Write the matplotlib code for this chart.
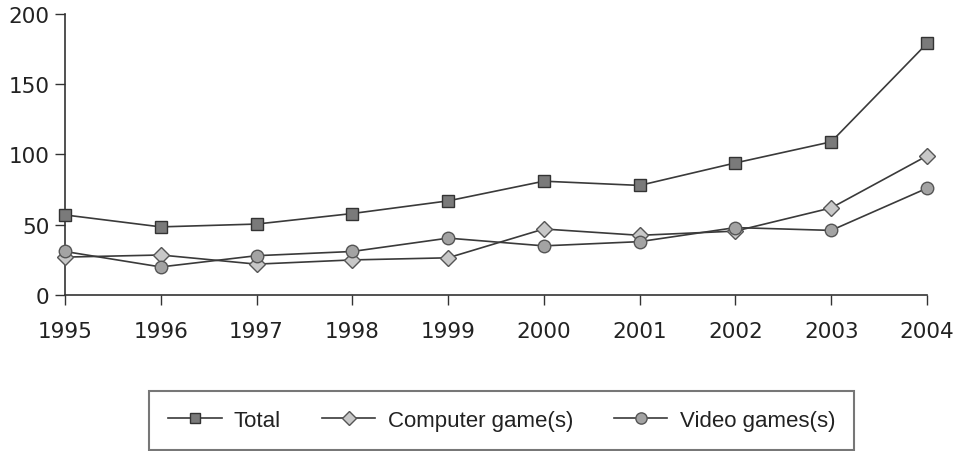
import matplotlib
matplotlib.use("Agg")
import matplotlib.pyplot as plt

years = [1995, 1996, 1997, 1998, 1999, 2000, 2001, 2002, 2003, 2004]
total = [57, 48.5, 50.5, 58, 67, 81, 78, 94, 109, 179]
computer = [27, 28.5, 22, 25, 26.5, 47, 42.5, 45.5, 62, 99]
video = [31, 20, 28, 31, 40.5, 35, 38, 48, 46, 76]
labels = ["Total", "Computer game(s)", "Video games(s)"]
yticks = [0, 50, 100, 150, 200]

fig = plt.figure(figsize=(9.61, 4.52), dpi=100)
ax = fig.add_axes([0.0676, 0.345, 0.897, 0.622])

line_c = "#3a3a3a"
ax.plot(years, total, color=line_c, lw=1.2, marker="s", ms=8, mfc="#7a7a7a", mec="#333333", mew=1, clip_on=False, label=labels[0], zorder=3)
ax.plot(years, computer, color=line_c, lw=1.2, marker="D", ms=8, mfc="#c8c8c8", mec="#555555", mew=1, clip_on=False, label=labels[1], zorder=3)
ax.plot(years, video, color=line_c, lw=1.2, marker="o", ms=9, mfc="#a3a3a3", mec="#555555", mew=1, clip_on=False, label=labels[2], zorder=3)

ax.set_xlim(1995, 2004)
ax.set_ylim(0, 200)
ax.set_xticks(years)
ax.set_yticks(yticks)
ax.spines["top"].set_visible(False)
ax.spines["right"].set_visible(False)
for s in ["left", "bottom"]:
    ax.spines[s].set_color("#333333")
    ax.spines[s].set_linewidth(1.2)
ax.tick_params(axis="both", direction="out", length=7, width=1, color="#333333", labelsize=15.5, labelcolor="#222222")
ax.tick_params(axis="x", pad=12)
ax.tick_params(axis="y", pad=4)

leg = fig.legend(loc="lower center", bbox_to_anchor=(0.522, 0.003), ncol=3, frameon=True, fancybox=False,
                 edgecolor="#555555", prop={"family": "Liberation Sans", "size": 16}, handlelength=2.4,
                 markerscale=0.9, columnspacing=1.85, borderpad=0.85, handletextpad=0.55, borderaxespad=0)
leg.get_frame().set_linewidth(1.5)
for t in leg.get_texts():
    t.set_color("#222222")

fig.savefig("out.png", dpi=100)
